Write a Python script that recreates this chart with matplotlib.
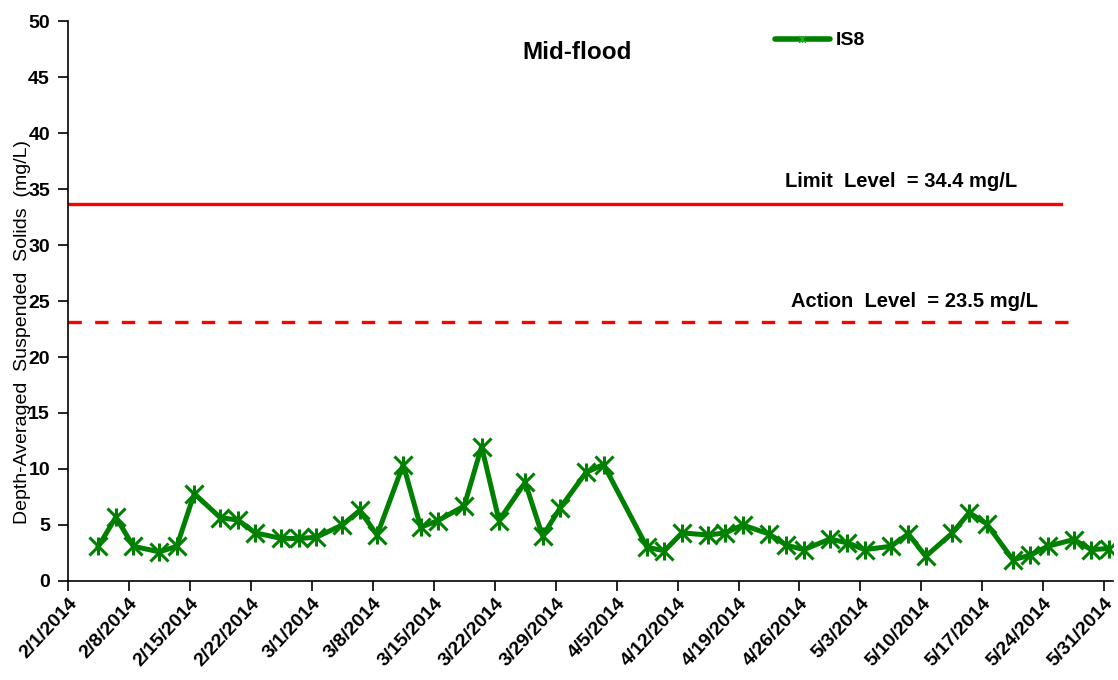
import matplotlib
matplotlib.use("Agg")
import matplotlib.pyplot as plt
from matplotlib.path import Path
from matplotlib.lines import Line2D
import pandas as pd

plt.rcParams['font.family'] = ['Liberation Sans', 'DejaVu Sans']

# ---- data ----
dates = ["2014-02-04", "2014-02-06", "2014-02-08", "2014-02-11", "2014-02-13",
         "2014-02-15", "2014-02-18", "2014-02-20", "2014-02-22", "2014-02-25",
         "2014-02-27", "2014-03-01", "2014-03-04", "2014-03-06", "2014-03-08",
         "2014-03-11", "2014-03-13", "2014-03-15", "2014-03-18", "2014-03-20",
         "2014-03-22", "2014-03-25", "2014-03-27", "2014-03-29", "2014-04-01",
         "2014-04-03", "2014-04-08", "2014-04-10", "2014-04-12", "2014-04-15",
         "2014-04-17", "2014-04-19", "2014-04-22", "2014-04-24", "2014-04-26",
         "2014-04-29", "2014-05-01", "2014-05-03", "2014-05-06", "2014-05-08",
         "2014-05-10", "2014-05-13", "2014-05-15", "2014-05-17", "2014-05-20",
         "2014-05-22", "2014-05-24", "2014-05-27", "2014-05-29", "2014-05-31"]
is8 = [3.1, 5.7, 3.1, 2.6, 3.1, 7.8, 5.65, 5.45, 4.3, 3.8,
       3.8, 3.9, 5.0, 6.3, 4.1, 10.4, 4.8, 5.4, 6.7, 12.0,
       5.4, 8.8, 4.0, 6.5, 9.7, 10.4, 3.0, 2.7, 4.3, 4.1,
       4.3, 5.0, 4.2, 3.2, 2.8, 3.75, 3.4, 2.8, 3.1, 4.2,
       2.2, 4.25, 6.1, 5.1, 1.9, 2.3, 3.1, 3.7, 2.8, 2.9]

limit_value = 33.7
limit_span = ["2014-02-01", "2014-05-26"]
action_value = 23.1
action_span = ["2014-02-01", "2014-05-27"]
limit_label = "Limit  Level  = 34.4 mg/L"
action_label = "Action  Level  = 23.5 mg/L"
title = "Mid-flood"
series_name = "IS8"
ylabel = "Depth-Averaged  Suspended  Solids  (mg/L)"
xstart, xend = "2014-02-01", "2014-06-01"
yticks = list(range(0, 51, 5))

# ---- plot ----
x = pd.to_datetime(dates) + pd.Timedelta(hours=12)
fig = plt.figure(figsize=(11.18, 6.80), dpi=100)
ax = fig.add_axes([0.0608, 0.1456, 0.9347, 0.8235])

star = Path([(-1, -1), (1, 1), (-1, 1), (1, -1), (0, -1), (0, 1)],
            [Path.MOVETO, Path.LINETO, Path.MOVETO, Path.LINETO, Path.MOVETO, Path.LINETO])

green = "#008000"
ax.plot(x, is8, color=green, lw=3.6, marker=star, markersize=13,
        markeredgewidth=2.2, markerfacecolor='none', markeredgecolor=green,
        solid_joinstyle='round', zorder=3)

ax.plot(pd.to_datetime(limit_span), [limit_value, limit_value], color="#ff0000", lw=2.4)
ax.plot(pd.to_datetime(action_span), [action_value, action_value], color="#ff0000",
        lw=2.4, dashes=(4, 4))

ax.set_xlim(pd.Timestamp(xstart), pd.Timestamp(xend))
ax.set_ylim(0, 50)
ax.set_yticks(yticks)
ticks = pd.date_range(xstart, "2014-05-31", freq="7D")
ax.set_xticks(ticks)
ax.set_xticklabels([f"{d.month}/{d.day}/{d.year}" for d in ticks], rotation=47,
                   ha='right', rotation_mode='anchor', fontweight='bold', fontsize=14)
ax.set_yticklabels([str(v) for v in yticks], fontweight='bold', fontsize=14)

for s in ['top', 'right']:
    ax.spines[s].set_visible(False)
for s in ['left', 'bottom']:
    ax.spines[s].set_linewidth(1.2)
ax.tick_params(axis='both', direction='out', length=7, width=1.2)
ax.tick_params(axis='y', pad=6)
ax.tick_params(axis='x', pad=3)

ax.set_ylabel(ylabel, fontsize=14)
ax.yaxis.set_label_coords(-0.035, 0.445)

ax.text(0.487, 0.943, title, transform=ax.transAxes, ha='center', va='center',
        fontsize=17.5, fontweight='bold')
ax.text(0.797, 0.714, limit_label, transform=ax.transAxes, ha='center', va='center',
        fontsize=14.5, fontweight='bold')
ax.text(0.810, 0.500, action_label, transform=ax.transAxes, ha='center', va='center',
        fontsize=14.5, fontweight='bold')

handle = Line2D([], [], color=green, lw=4, marker=star, markersize=5,
                markeredgewidth=1, markeredgecolor='#22aa22', solid_capstyle='round')
ax.legend([handle], [series_name], loc='center left', bbox_to_anchor=(0.66, 0.965),
          frameon=False, handlelength=2.8, handletextpad=0.3,
          prop={'weight': 'bold', 'size': 14})

fig.savefig("out.png", dpi=100)
